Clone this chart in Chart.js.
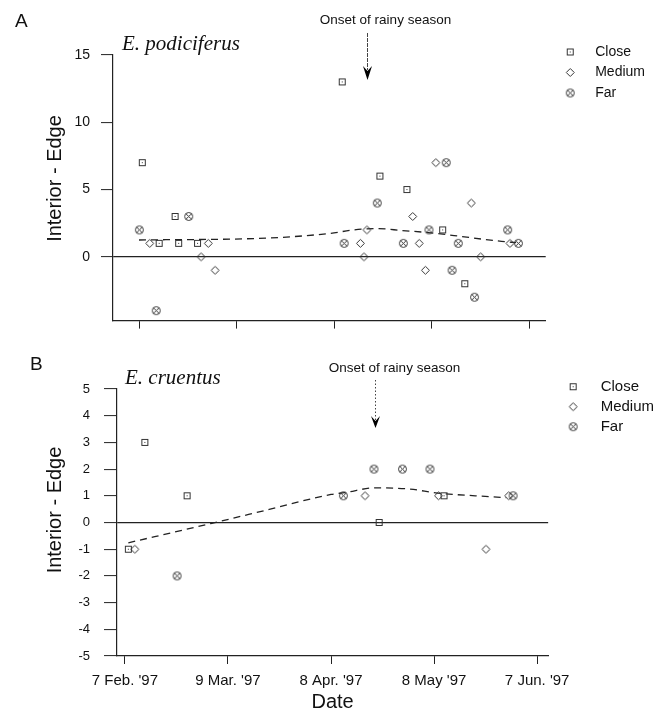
<!DOCTYPE html>
<html><head><meta charset="utf-8">
<script src="https://cdn.jsdelivr.net/npm/chart.js@4.4.1/dist/chart.umd.min.js"></script>
<style>
html,body{margin:0;padding:0;background:#fff;}
#wrap{position:relative;width:664px;height:714px;background:#fff;}
.pane{position:absolute;left:0;width:664px;}
</style></head><body>
<div id="wrap">
<div class="pane" style="top:0;height:340px"><canvas id="cA" width="664" height="340"></canvas></div>
<div class="pane" style="top:340px;height:374px"><canvas id="cB" width="664" height="374"></canvas></div>
</div>
<script>
// ---------- DATA (days after 7 Feb. '97 ; value = Interior - Edge) ----------
const xTickValues = [0, 30, 60, 90, 120];
const xTickLabels = ["7 Feb. '97", "9 Mar. '97", "8 Apr. '97", "8 May '97", "7 Jun. '97"];
const seriesNames = ["Close", "Medium", "Far"];
const yTicksA = [0, 5, 10, 15];
const yTicksB = [-5, -4, -3, -2, -1, 0, 1, 2, 3, 4, 5];

// Panel A: E. podiciferus
const aCloseDays  = [1, 6.2, 11.1, 12.2, 18, 62.5, 74.1, 82.4, 93.4, 100.2];
const aCloseVals  = [7, 1, 3, 1, 1, 13, 6, 5, 2, -2];
const aMediumDays = [3.3, 19.1, 21.3, 23.4, 68.1, 69.2, 70.1, 84.2, 86.2, 88.1, 91.3, 102.2, 105.1, 114.1];
const aMediumVals = [1, 0, 1, -1, 1, 0, 2, 3, 1, -1, 7, 4, 0, 1];
const aFarDays    = [0.1, 5.3, 15.3, 63.1, 73.3, 81.3, 89.2, 94.5, 96.3, 98.2, 103.2, 113.4, 116.7];
const aFarVals    = [2, -4, 3, 1, 4, 1, 2, 7, -1, 1, -3, 2, 1];
const aTrendDays  = [0, 40, 59, 66, 73.5, 81, 89, 98, 106, 111.5, 116];
const aTrendVals  = [1.25, 1.4, 1.75, 2.0, 2.1, 1.95, 1.8, 1.55, 1.3, 1.15, 1.05];
const aOnsetDay   = 70.2;

// Panel B: E. cruentus
const bCloseDays  = [1, 5.8, 18.1, 74, 92.9];
const bCloseVals  = [-1, 3, 1, 0, 1];
const bMediumDays = [2.9, 69.9, 91.3, 105.1, 111.7];
const bMediumVals = [-1, 1, 1, -1, 1];
const bFarDays    = [15.2, 63.6, 72.5, 80.8, 88.8, 113];
const bFarVals    = [-2, 1, 2, 2, 2, 1];
const bTrendDays  = [1, 25, 42, 60, 64, 73, 83, 91, 102, 111];
const bTrendVals  = [-0.76, -0.04, 0.49, 1.05, 1.12, 1.3, 1.25, 1.1, 1.0, 0.93];
const bOnsetDay   = 72.7;

// ---------- helpers ----------
const FAMILY = "'Liberation Sans', Arial, Helvetica, sans-serif";
Chart.defaults.font.family = FAMILY;
Chart.defaults.color = '#111';

function makeMarker(kind) {
  const c = document.createElement('canvas');
  c.width = 11; c.height = 11;
  const g = c.getContext('2d');
  g.strokeStyle = '#333'; g.fillStyle = '#333'; g.lineWidth = 1;
  if (kind === 'square') {
    g.strokeRect(2.5, 2.5, 6, 6);
    g.fillRect(5, 5, 1, 1);
  } else if (kind === 'diamond') {
    g.beginPath();
    g.moveTo(5.5, 1.5); g.lineTo(9.5, 5.5); g.lineTo(5.5, 9.5); g.lineTo(1.5, 5.5);
    g.closePath(); g.stroke();
  } else {
    g.beginPath(); g.arc(5.5, 5.5, 4, 0, Math.PI * 2); g.stroke();
    g.beginPath();
    g.moveTo(3.2, 3.2); g.lineTo(7.8, 7.8); g.moveTo(7.8, 3.2); g.lineTo(3.2, 7.8); g.stroke();
  }
  return c;
}
const markers = [makeMarker('square'), makeMarker('diamond'), makeMarker('cross')];

function pts(days, vals) { return days.map((d, i) => ({x: d, y: vals[i]})); }

function buildDatasets(close, medium, far, trend) {
  const groups = [close, medium, far];
  const ds = groups.map((g, i) => ({
    label: seriesNames[i],
    data: pts(g[0], g[1]),
    pointStyle: markers[i],
    pointRadius: 4,
    showLine: false,
    borderColor: '#333',
    backgroundColor: 'rgba(0,0,0,0)'
  }));
  ds.push({
    label: 'trend',
    data: pts(trend[0], trend[1]),
    showLine: true,
    pointRadius: 0,
    borderColor: '#222',
    borderWidth: 1.3,
    borderDash: [7, 5],
    cubicInterpolationMode: 'monotone',
    fill: false
  });
  return ds;
}

const annotate = {
  id: 'annotate',
  afterDraw(chart, args, o) {
    const {ctx} = chart;
    const xs = chart.scales.x;
    ctx.save();
    ctx.fillStyle = '#111';
    ctx.textAlign = 'left'; ctx.textBaseline = 'alphabetic';
    ctx.font = '19px ' + FAMILY;
    ctx.fillText(o.letter, o.letterX, o.letterY);
    ctx.font = "italic 21px 'Liberation Serif', 'Times New Roman', serif";
    ctx.fillText(o.species, o.speciesX, o.speciesY);
    // y-axis title
    ctx.save();
    ctx.translate(55, o.yTitleY);
    ctx.rotate(-Math.PI / 2);
    ctx.textAlign = 'center'; ctx.textBaseline = 'middle';
    ctx.font = '20px ' + FAMILY;
    ctx.fillText('Interior - Edge', 0, 0);
    ctx.restore();
    // onset arrow
    const ax = Math.round(xs.getPixelForValue(o.onsetDay)) + 0.5;
    ctx.font = '13.5px ' + FAMILY;
    ctx.textAlign = 'center'; ctx.textBaseline = 'middle';
    ctx.fillText('Onset of rainy season', ax + o.textDx, o.textY);
    ctx.strokeStyle = '#444'; ctx.lineWidth = 1;
    ctx.setLineDash(o.stemDash);
    ctx.beginPath(); ctx.moveTo(ax, o.stemTop); ctx.lineTo(ax, o.headTop + 4); ctx.stroke();
    ctx.setLineDash([]);
    ctx.fillStyle = '#000';
    ctx.beginPath();
    ctx.moveTo(ax, o.tipY);
    ctx.lineTo(ax - 4.5, o.headTop);
    ctx.lineTo(ax, o.headTop + 5);
    ctx.lineTo(ax + 4.5, o.headTop);
    ctx.closePath(); ctx.fill();
    ctx.restore();
  }
};

function gridColor(c) { return c.tick && c.tick.value === 0 ? '#222' : 'rgba(0,0,0,0)'; }

function makeChart(id, cfg) {
  return new Chart(document.getElementById(id), {
    type: 'scatter',
    data: {datasets: cfg.datasets},
    plugins: [annotate],
    options: {
      responsive: false,
      animation: false,
      events: [],
      layout: {padding: cfg.padding},
      plugins: {
        tooltip: {enabled: false},
        legend: {
          position: 'right', align: 'start',
          labels: {
            usePointStyle: true, pointStyleWidth: cfg.legendBox, padding: cfg.legendPad,
            color: '#111', font: {size: cfg.legendFont, family: FAMILY},
            filter: item => item.datasetIndex < 3
          }
        },
        annotate: cfg.annot
      },
      scales: {
        x: {
          type: 'linear', min: cfg.xMin, max: cfg.xMax,
          afterBuildTicks: ax => { ax.ticks = xTickValues.map(v => ({value: v})); },
          afterFit: ax => { ax.height = cfg.xHeight; },
          ticks: {
            display: cfg.xLabels, padding: 8, maxRotation: 0, autoSkip: false, color: '#111',
            font: {size: 15, family: FAMILY},
            callback: v => xTickLabels[xTickValues.indexOf(v)]
          },
          grid: {drawOnChartArea: false, drawTicks: true, tickLength: 8, tickColor: '#222', tickWidth: 1},
          border: {display: true, color: '#222', width: 1.2},
          title: {display: cfg.xLabels, text: 'Date', color: '#111', font: {size: 20, family: FAMILY}, padding: 0}
        },
        y: {
          type: 'linear', min: cfg.yMin, max: cfg.yMax,
          afterBuildTicks: ax => { ax.ticks = cfg.yTicks.map(v => ({value: v})); },
          afterFit: ax => { ax.width = cfg.yWidth; ax.paddingTop = cfg.chartTop; },
          ticks: {padding: cfg.yTickPad, color: '#111', font: {size: cfg.yFont, family: FAMILY}},
          grid: {color: gridColor, lineWidth: 1.2, drawTicks: true, tickLength: cfg.yTickLen, tickColor: '#222', tickWidth: 1},
          border: {display: true, color: '#222', width: 1.2},
          title: {display: false}
        }
      }
    }
  });
}

makeChart('cA', {
  datasets: buildDatasets([aCloseDays, aCloseVals], [aMediumDays, aMediumVals], [aFarDays, aFarVals], [aTrendDays, aTrendVals]),
  padding: {top: 38.5, left: 43, right: 9, bottom: 0},
  legendBox: 36, legendPad: 6.5, legendFont: 14,
  xMin: -8, xMax: 125.1, xHeight: 17, xLabels: false,
  yMin: -4.74, yMax: 15, yTicks: yTicksA, yWidth: 70, chartTop: 55,
  yTickPad: 11, yTickLen: 12, yFont: 14,
  annot: {letter: 'A', letterX: 15, letterY: 27, species: 'E. podiciferus', speciesX: 122, speciesY: 50,
          yTitleY: 178.5,
          onsetDay: aOnsetDay, textDx: 18, textY: 20, stemTop: 33, headTop: 66, tipY: 80, stemDash: [4, 1]}
});

makeChart('cB', {
  datasets: buildDatasets([bCloseDays, bCloseVals], [bMediumDays, bMediumVals], [bFarDays, bFarVals], [bTrendDays, bTrendVals]),
  padding: {top: 34.2, left: 43, right: 0, bottom: 0},
  legendBox: 40, legendPad: 5, legendFont: 15,
  xMin: -2.3, xMax: 123.2, xHeight: 58, xLabels: true,
  yMin: -5, yMax: 5, yTicks: yTicksB, yWidth: 74, chartTop: 49,
  yTickPad: 14, yTickLen: 13, yFont: 13,
  annot: {letter: 'B', letterX: 30, letterY: 30, species: 'E. cruentus', speciesX: 125, speciesY: 44,
          yTitleY: 170,
          onsetDay: bOnsetDay, textDx: 19, textY: 28.5, stemTop: 40, headTop: 76, tipY: 88, stemDash: [1.5, 2]}
});
</script>
</body></html>
